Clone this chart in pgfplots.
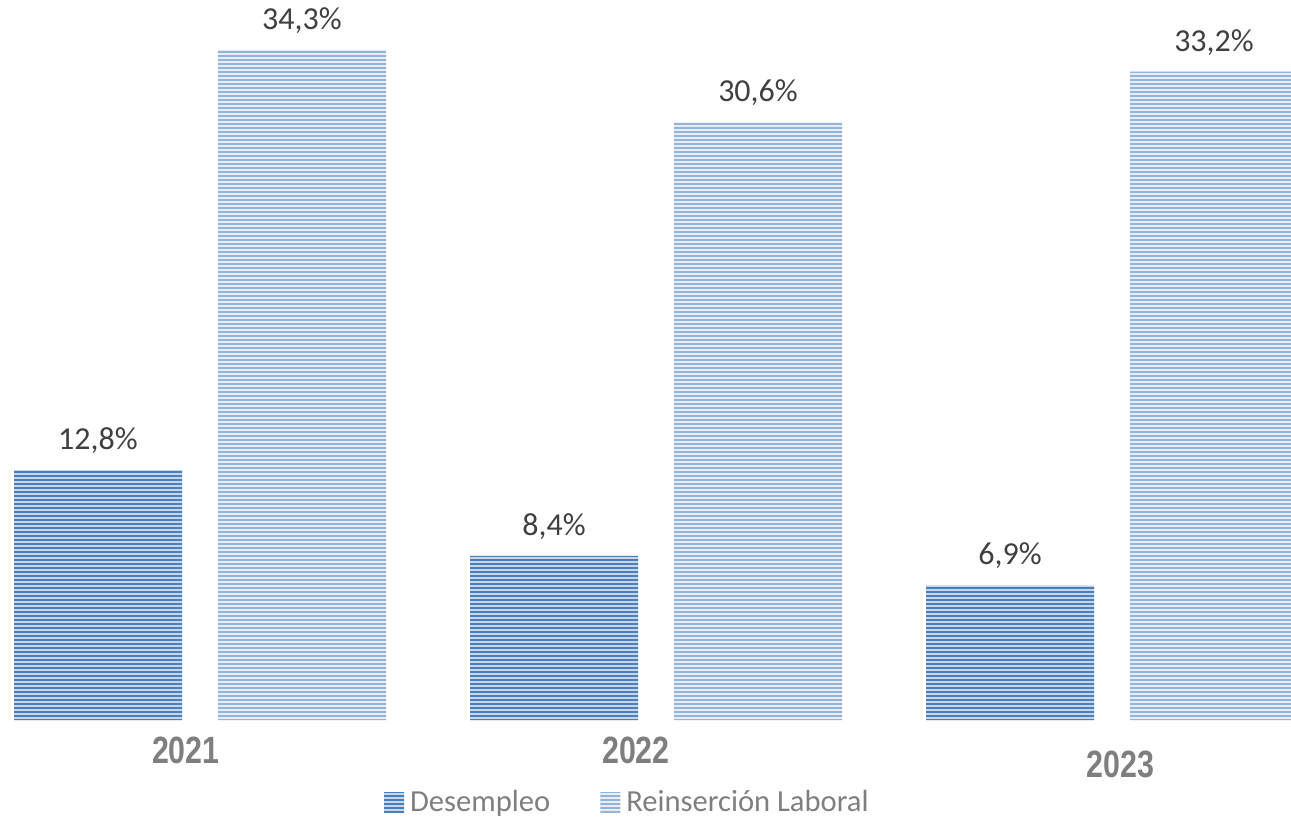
\documentclass[border=0pt]{standalone}
\usepackage{pgfplots}
\pgfplotsset{compat=1.18}
\usepackage{fontspec}
\setmainfont{Carlito}
\newfontfamily\yearfont[FakeStretch=0.8]{Liberation Sans}
\usetikzlibrary{patterns.meta}

\definecolor{darkbg}{HTML}{C6D6EB}
\definecolor{darkline}{HTML}{4A7EBB}
\definecolor{lightbg}{HTML}{E6EDF7}
\definecolor{lightline}{HTML}{95B3D7}
\definecolor{valtext}{HTML}{404040}
\definecolor{graytext}{HTML}{7F7F7F}

\tikzset{
  bardark/.style={fill=darkbg, draw=none,
    postaction={pattern={Lines[angle=0,distance=2pt,line width=1.3pt]}, pattern color=darkline}},
  barlight/.style={fill=lightbg, draw=none,
    postaction={pattern={Lines[angle=0,distance=2pt,line width=1.1pt]}, pattern color=lightline}},
  yearlbl/.style={text=graytext, font=\yearfont\bfseries\fontsize{19}{22}\selectfont},
}

\begin{document}
\begin{tikzpicture}
\begin{axis}[
    scale only axis,
    width=645.5pt, height=360pt,
    xmin=-0.4386, xmax=2.3925,
    ymin=0, ymax=36.87,
    axis lines=none,
    clip=false,
    ybar, bar width=84pt,
    point meta=explicit symbolic,
    nodes near coords,
    nodes near coords style={font=\fontsize{16}{19}\selectfont, text=valtext,
        anchor=south, inner sep=0pt, yshift=8pt},
    legend columns=2,
    legend style={draw=none, fill=none, at={(0.4875,-0.115)}, anchor=center,
        font=\fontsize{15.3}{18}\selectfont, text=graytext,
        /tikz/every even column/.append style={column sep=22pt},
        /tikz/every node/.append style={inner xsep=3pt}},
    legend cell align=left,
    legend image code/.code={\path[#1] (0pt,-5pt) rectangle (10pt,5pt);},
]
% Desempleo
\addplot[bardark, bar shift=-51pt] coordinates {
    (0,12.8) [12,8\%]
    (1,8.4)  [8,4\%]
    (2,6.9)  [6,9\%]
};
\addlegendentry{Desempleo}

% Reinsercion Laboral
\addplot[barlight, bar shift=51pt] coordinates {
    (0,34.3) [34,3\%]
    (1,30.6) [30,6\%]
    (2,33.2) [33,2\%]
};
\addlegendentry{Reinserción Laboral}

% year labels
\node[yearlbl] at (axis cs:-0.031,-1.54) {2021};
\node[yearlbl] at (axis cs:0.956,-1.54) {2022};
\node[yearlbl] at (axis cs:2.018,-2.30) {2023};
\end{axis}
\pgfresetboundingbox
\path (current axis.south west) ++(0,-50pt) rectangle (current axis.north east);
\end{tikzpicture}
\end{document}
